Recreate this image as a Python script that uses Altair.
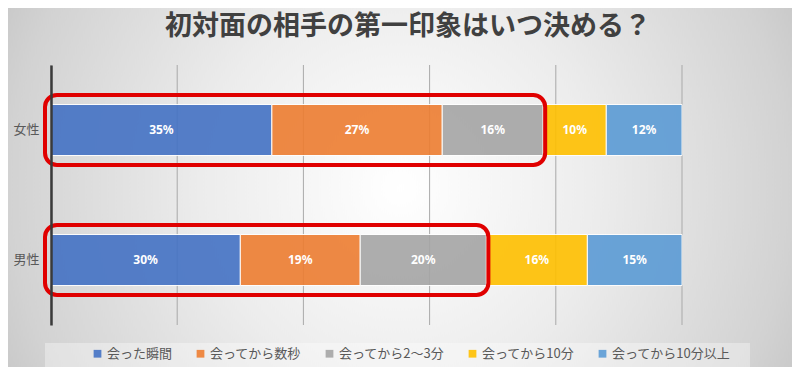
import altair as alt
import pandas as pd

# ---- data ----
title_text = "初対面の相手の第一印象はいつ決める？"
genders = ["女性", "男性"]
categories = ["会った瞬間", "会ってから数秒", "会ってから2〜3分", "会ってから10分", "会ってから10分以上"]
female = [35, 27, 16, 10, 12]
male = [30, 19, 20, 16, 15]
highlight_count = 3
grid_ticks = [0, 20, 40, 60, 80, 100]

colors = ["#4472C4", "#ED7D31", "#A5A5A5", "#FFC000", "#5B9BD5"]

rows = []
for g, vals in zip(genders, [female, male]):
    cum = 0
    for i, (c, v) in enumerate(zip(categories, vals)):
        rows.append(dict(gender=g, category=c, order=i, value=v, start=cum,
                         end=cum + v, mid=cum + v / 2, label=f"{v}%"))
        cum += v
df = pd.DataFrame(rows)
hl = pd.DataFrame({"gender": genders, "start": [0, 0],
                   "end": [sum(female[:highlight_count]), sum(male[:highlight_count])]})
grid_df = pd.DataFrame({"tick": grid_ticks})
one = pd.DataFrame({"title": [title_text]})

W, H = 631, 260
PL, PT, PR, PB = 43, 57, 110, 42
JP = "Noto Sans CJK JP"

xscale = alt.Scale(domain=[0, 100], nice=False, zero=True)
yenc = alt.Y("gender:N", sort=genders,
             scale=alt.Scale(paddingInner=0, paddingOuter=0),
             axis=alt.Axis(title=None, ticks=False, labelFontSize=13, labelColor="#595959",
                           labelFont=JP, labelPadding=12, domainColor="#3a3a3a",
                           domainWidth=2.5, grid=False, zindex=1))

bg = alt.Chart(one).mark_rect(
    fill=alt.RadialGradient(
        gradient="radial",
        stops=[alt.GradientStop(offset=0, color="#ffffff"),
               alt.GradientStop(offset=0.45, color="#ececec"),
               alt.GradientStop(offset=0.89, color="#d2d2d2"),
               alt.GradientStop(offset=1, color="#c8c8c8")],
        x1=0.5, y1=0.5, r1=0, x2=0.5, y2=0.5, r2=0.56)
).encode(x=alt.value(-PL), x2=alt.value(W + PR),
         y=alt.value(122.5 - 392), y2=alt.value(122.5 + 392))

title = alt.Chart(one).mark_text(fontSize=27, font=JP, fontWeight="bold", color="#404040",
                                 align="center", baseline="middle").encode(
    x=alt.value(357), y=alt.value(-38), text="title:N")

legend_box = alt.Chart(one).mark_rect(fill="#ffffff", fillOpacity=0.35).encode(
    x=alt.value(-6), x2=alt.value(699), y=alt.value(278), y2=alt.value(302))

grid = alt.Chart(grid_df).mark_rule(color="#a9a9a9", strokeWidth=1).encode(
    x=alt.X("tick:Q", scale=xscale, axis=None))

bars = alt.Chart(df).mark_bar(size=51, opacity=0.9, stroke="white", strokeWidth=1).encode(
    x=alt.X("start:Q", scale=xscale, axis=None),
    x2="end:Q",
    y=yenc,
    color=alt.Color("category:N", sort=categories,
                    scale=alt.Scale(domain=categories, range=colors),
                    legend=alt.Legend(title=None, orient="none", legendX=40, legendY=282,
                                      direction="horizontal", symbolType="square",
                                      symbolSize=60, symbolStrokeWidth=0,
                                      labelFontSize=13, labelColor="#595959", labelFont=JP,
                                      columnPadding=21, padding=0, labelOffset=3,
                                      labelLimit=300)),
    order=alt.Order("order:Q"),
)

labels = alt.Chart(df).mark_text(color="white", fontWeight="bold", fontSize=12,
                                 font="Noto Sans").encode(
    x=alt.X("mid:Q", scale=xscale, axis=None),
    y=yenc,
    text="label:N",
)

boxes = alt.Chart(hl).mark_bar(size=70, fillOpacity=0, stroke="#E00000", strokeWidth=4,
                               cornerRadius=12, xOffset=-6, x2Offset=2).encode(
    x=alt.X("start:Q", scale=xscale, axis=None),
    x2="end:Q",
    y=yenc,
)

chart = alt.layer(bg, title, legend_box, grid, bars, labels, boxes).properties(
    width=W, height=H,
    autosize=alt.AutoSizeParams(type="none"),
    padding={"left": PL, "top": PT, "right": PR, "bottom": PB},
).configure_view(stroke=None)

chart.save("out.html", embed_options={"renderer": "svg", "actions": False})
